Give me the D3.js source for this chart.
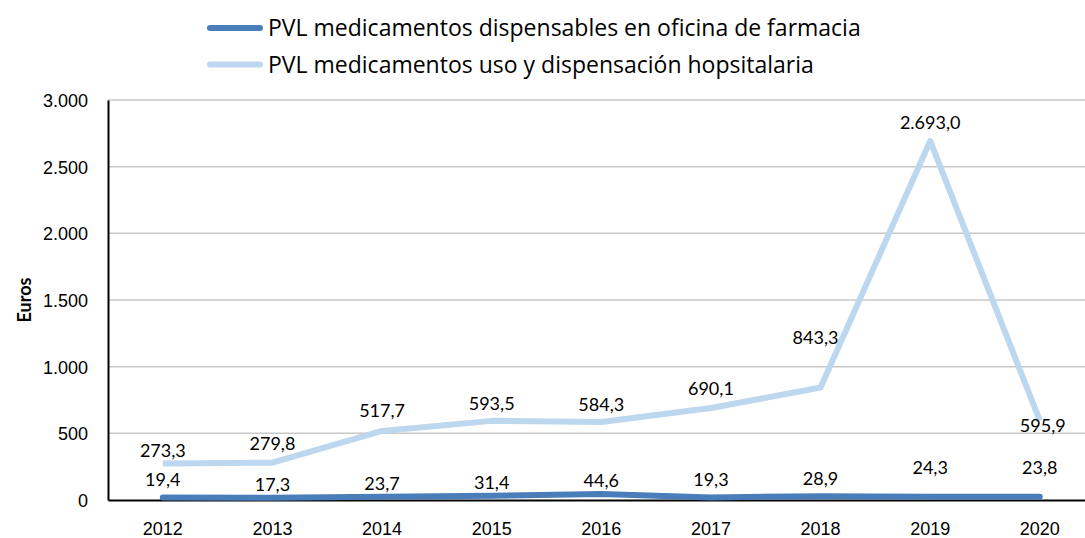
<!DOCTYPE html>
<html>
<head>
<meta charset="utf-8">
<script src="https://cdn.jsdelivr.net/npm/d3@7"></script>
<style>
  body { margin: 0; background: #fff; }
  svg { display: block; font-family: Lato, "Open Sans", sans-serif; }
  .tick text { font-size: 18px; fill: #000; }
  .grid line { stroke: #c8c8c8; stroke-width: 1.5px; }
  .lbl { font-size: 18px; fill: #000; text-anchor: middle; }
  .legend { font-family: "Open Sans", Lato, sans-serif; font-size: 23px; fill: #000; }
</style>
</head>
<body>
<svg id="chart" width="1085" height="538"></svg>
<script>
const years = ["2012","2013","2014","2015","2016","2017","2018","2019","2020"];
const oficina = [19.4, 17.3, 23.7, 31.4, 44.6, 19.3, 28.9, 24.3, 23.8];
const hospital = [273.3, 279.8, 517.7, 593.5, 584.3, 690.1, 843.3, 2693.0, 595.9];
const yTicks = [0, 500, 1000, 1500, 2000, 2500, 3000];
const seriesNames = [
  "PVL medicamentos dispensables en oficina de farmacia",
  "PVL medicamentos uso y dispensación hopsitalaria"
];

// label nudges (baseline offset from the point), as placed in the original
const oficinaDy = [-11, -7, -7, -7, -7, -11, -11, -23, -23];
const hospitalDy = [-7, -13, -14, -11, -11, -13, -44, -12, 11];
const hospitalDx = [0, 0, 0, 0, 0, 0, -5, 0, 3];

const colors = ["#4a7ebb", "#bdd7ee"];

const svg = d3.select("#chart");
const plotL = 108, plotR = 1094.6, plotT = 100, plotB = 500;

const x = d3.scaleBand().domain(years).range([plotL, plotR]);
const y = d3.scaleLinear().domain([0, 3000]).range([plotB, plotT]);
const fmt = d3.formatLocale({decimal: ",", thousands: ".", grouping: [3]});
const tickFmt = fmt.format(",.0f");
const lblFmt = fmt.format(",.1f");

// gridlines
svg.append("g").attr("class", "grid")
  .selectAll("line").data(yTicks.filter(d => d > 0)).join("line")
  .attr("x1", plotL).attr("x2", plotR)
  .attr("y1", d => y(d)).attr("y2", d => y(d));

// y axis
const yAxis = svg.append("g").attr("transform", `translate(${plotL},0)`)
  .call(d3.axisLeft(y).tickValues(yTicks).tickFormat(tickFmt).tickSize(0).tickPadding(20));
yAxis.select(".domain").attr("stroke", "#000").attr("stroke-width", 2);
yAxis.selectAll(".tick text").attr("dy", "0.36em");

// x axis
const xAxis = svg.append("g").attr("transform", `translate(0,${plotB})`)
  .call(d3.axisBottom(x).tickSize(0).tickPadding(22));
xAxis.select(".domain").attr("stroke", "#000").attr("stroke-width", 2);

svg.append("text")
  .attr("transform", `translate(31,300) rotate(-90)`)
  .attr("text-anchor", "middle")
  .attr("font-size", 18).attr("font-weight", "bold")
  .text("Euros");

const line = d3.line().x((d, i) => x(years[i]) + x.bandwidth() / 2).y(d => y(d));

svg.append("path").attr("d", line(hospital)).attr("fill", "none")
  .attr("stroke", colors[1]).attr("stroke-width", 6).attr("stroke-linejoin", "round");
svg.append("path").attr("d", line(oficina)).attr("fill", "none")
  .attr("stroke", colors[0]).attr("stroke-width", 6).attr("stroke-linecap", "round")
  .attr("stroke-linejoin", "round");

svg.append("g").selectAll("text").data(hospital).join("text").attr("class", "lbl")
  .attr("x", (d, i) => x(years[i]) + x.bandwidth() / 2 + hospitalDx[i])
  .attr("y", (d, i) => y(d) + hospitalDy[i])
  .text(d => lblFmt(d));
svg.append("g").selectAll("text").data(oficina).join("text").attr("class", "lbl")
  .attr("x", (d, i) => x(years[i]) + x.bandwidth() / 2)
  .attr("y", (d, i) => y(d) + oficinaDy[i])
  .text(d => lblFmt(d));

// legend
const leg = svg.append("g").selectAll("g").data(seriesNames).join("g")
  .attr("transform", (d, i) => `translate(207,${28 + i * 36.5})`);
leg.append("line").attr("x1", 3).attr("x2", 53)
  .attr("stroke", (d, i) => colors[i]).attr("stroke-width", 6).attr("stroke-linecap", "round");
leg.append("text").attr("class", "legend").attr("x", 61).attr("y", 8).text(d => d);
</script>
</body>
</html>
